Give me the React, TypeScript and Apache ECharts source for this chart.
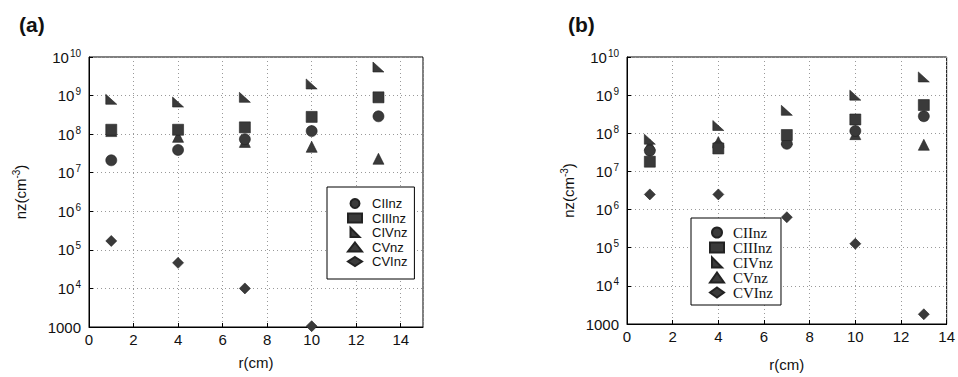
import React, { useEffect, useRef } from "react";
import * as echarts from "echarts";

const radii = [1, 4, 7, 10, 13];
const seriesNames = ["CIInz", "CIIInz", "CIVnz", "CVnz", "CVInz"];

// Panel (a)
const aCII = [2.1e7, 3.9e7, 7.4e7, 1.2e8, 2.9e8];
const aCIII = [1.3e8, 1.3e8, 1.5e8, 2.8e8, 9e8];
const aCIV = [8e8, 6.8e8, 9e8, 2e9, 5.5e9];
const aCV = [1.2e8, 8.5e7, 6.3e7, 4.7e7, 2.3e7];
const aCVI = [1.7e5, 4.6e4, 1.0e4, 1.05e3, NaN];

// Panel (b)
const bCII = [3.5e7, 4.5e7, 5.3e7, 1.15e8, 2.8e8];
const bCIII = [1.8e7, 4e7, 9e7, 2.3e8, 5.5e8];
const bCIV = [7e7, 1.6e8, 4e8, 1.0e9, 3e9];
const bCV = [5e7, 5.9e7, 7e7, 9.5e7, 5e7];
const bCVI = [2.5e6, 2.5e6, 6.3e5, 1.27e5, 1.8e3];

const xTicksA = { min: 0, max: 15, interval: 2 };
const xTicksB = { min: 0, max: 14, interval: 2 };
const yRange = { min: 1000, max: 1e10 };

const symbols = [
  "circle",
  "rect",
  "path://M0,0 L0,10 L10,10 Z",
  "triangle",
  "diamond",
];
const zs = [3, 4, 3, 2, 2];
const markerColor = "#3a3a3a";

export default function App() {
  const ref = useRef<HTMLDivElement>(null);
  useEffect(() => {
    if (!ref.current) return;
    const chart = echarts.init(ref.current, null, { renderer: "svg" });
    const font = "Liberation Sans, Arial, sans-serif";

    const yLabel = {
      fontFamily: font,
      color: "#111",
      margin: 8,
      formatter: (v: number) => {
        const e = Math.round(Math.log10(v));
        if (e === 3) return "{b|1000}";
        return `{b|10}{s|${e}}`;
      },
      rich: {
        b: { fontSize: 15, fontFamily: font, color: "#111", lineHeight: 18 },
        s: {
          fontSize: 10,
          fontFamily: font,
          color: "#111",
          verticalAlign: "top",
          lineHeight: 10,
          padding: [0, 0, 6, 1],
        },
      },
    };

    const grids = [
      { left: 89, top: 57, width: 334, height: 270 },
      { left: 627, top: 57, width: 326, height: 270 },
    ].map((g) => ({
      ...g,
      show: true,
      borderColor: "#000",
      borderWidth: 1,
      backgroundColor: "#fff",
    }));

    const mkX = (idx: number, t: any, gap: number) => ({
      type: "value",
      gridIndex: idx,
      min: t.min,
      max: t.max,
      interval: t.interval,
      name: "r(cm)",
      nameLocation: "middle",
      nameGap: gap,
      nameTextStyle: { fontFamily: font, fontSize: 15, color: "#111" },
      axisLine: { show: true, onZero: false, lineStyle: { color: "#000" } },
      axisTick: { show: true, inside: true, length: 4, lineStyle: { color: "#000" } },
      axisLabel: {
        fontFamily: font,
        fontSize: 15,
        color: "#111",
        margin: 5,
        showMaxLabel: t.max % t.interval === 0,
      },
      splitLine: { show: true, lineStyle: { color: "#999", type: [1, 3] } },
    });

    const mkY = (idx: number, gap: number) => ({
      type: "log",
      logBase: 10,
      gridIndex: idx,
      min: yRange.min,
      max: yRange.max,
      splitNumber: 7,
      name: "{a|nz(cm}{s|-3}{a|)}",
      nameLocation: "middle",
      nameGap: gap,
      nameTextStyle: {
        rich: {
          a: { fontFamily: font, fontSize: 15, color: "#111", lineHeight: 18 },
          s: {
            fontFamily: font,
            fontSize: 10,
            color: "#111",
            verticalAlign: "top",
            lineHeight: 10,
            padding: [0, 0, 6, 0],
          },
        },
      },
      axisLine: { show: true, lineStyle: { color: "#000" } },
      axisTick: { show: true, inside: true, length: 4, lineStyle: { color: "#000" } },
      axisLabel: yLabel,
      splitLine: { show: true, lineStyle: { color: "#999", type: [1, 3] } },
      minorTick: { show: false },
    });

    const dataA = [aCII, aCIII, aCIV, aCV, aCVI];
    const dataB = [bCII, bCIII, bCIV, bCV, bCVI];

    const series: any[] = [];
    [dataA, dataB].forEach((set, gi) => {
      set.forEach((vals, si) => {
        series.push({
          type: "scatter",
          name: seriesNames[si],
          xAxisIndex: gi,
          yAxisIndex: gi,
          symbol: symbols[si],
          symbolSize: si === 2 ? [11, 10] : 11,
          z: zs[si],
          itemStyle: {
            color: markerColor,
            borderColor: "#222",
            borderWidth: 0.6,
            opacity: 1,
          },
          data: radii
            .map((r, i) => [r, vals[i]])
            .filter((p) => !Number.isNaN(p[1])),
        });
      });
    });

    chart.setOption({
      animation: false,
      backgroundColor: "#fff",
      title: [
        {
          text: "(a)",
          left: 14,
          top: 9,
          textStyle: { fontFamily: font, fontSize: 21, fontWeight: "bold", color: "#111" },
        },
        {
          text: "(b)",
          left: 563,
          top: 9,
          textStyle: { fontFamily: font, fontSize: 21, fontWeight: "bold", color: "#111" },
        },
      ],
      grid: grids,
      xAxis: [mkX(0, xTicksA, 28), mkX(1, xTicksB, 33)],
      yAxis: [mkY(0, 60), mkY(1, 50)],
      legend: [
        {
          data: seriesNames,
          orient: "vertical",
          left: 327,
          top: 187,
          padding: [10, 7, 11, 20],
          itemGap: 1.5,
          itemWidth: 14,
          itemHeight: 9,
          borderColor: "#000",
          borderWidth: 1,
          backgroundColor: "#fff",
          selectedMode: false,
          textStyle: {
            fontFamily: font,
            fontSize: 13,
            color: "#111",
            padding: [0, 0, 0, 5],
          },
          z: 10,
        },
        {
          data: seriesNames,
          orient: "vertical",
          left: 691,
          top: 218,
          padding: [7, 8, 5, 18],
          itemGap: 0,
          itemWidth: 14,
          itemHeight: 10,
          borderColor: "#000",
          borderWidth: 1,
          backgroundColor: "#fff",
          selectedMode: false,
          textStyle: {
            fontFamily: "Liberation Serif, Times New Roman, serif",
            fontSize: 15,
            color: "#111",
            padding: [0, 0, 0, 4],
          },
          z: 10,
        },
      ],
      series,
    });
    return () => chart.dispose();
  }, []);
  return <div ref={ref} style={{ width: 958, height: 377, position: "absolute", left: 0, top: 0 }} />;
}
